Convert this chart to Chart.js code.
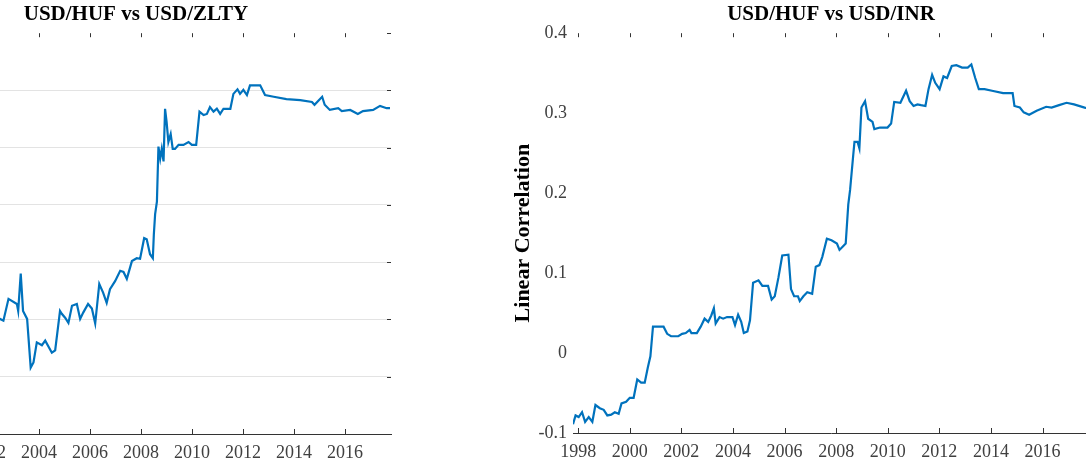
<!DOCTYPE html>
<html>
<head>
<meta charset="utf-8">
<script src="https://cdn.jsdelivr.net/npm/chart.js@4.4.1/dist/chart.umd.min.js"></script>
<style>
  html, body { margin: 0; padding: 0; background: #fff; overflow: hidden; }
  body { width: 1086px; height: 472px; position: relative; }
  .panel { position: absolute; top: 0; height: 472px; }
  #leftPanel { left: -230px; width: 631px; }
  #rightPanel { left: 480px; width: 620px; }
</style>
</head>
<body>
<div class="panel" id="leftPanel"><canvas id="zltyChart"></canvas></div>
<div class="panel" id="rightPanel"><canvas id="inrChart"></canvas></div>
<script>
// tick labels
const yearTicks = [1998, 2000, 2002, 2004, 2006, 2008, 2010, 2012, 2014, 2016];
const zltyYTicks = [0.2, 0.3, 0.4, 0.5, 0.6, 0.7, 0.8, 0.9];
const inrYTicks = [-0.1, 0, 0.1, 0.2, 0.3, 0.4];

// USD/HUF vs USD/ZLTY (left panel)
const zltyYears = [
  2002.3, 2002.47, 2002.6, 2002.8, 2003.13, 2003.18, 2003.28, 2003.37, 2003.53, 2003.67,
  2003.78, 2003.91, 2004.11, 2004.24, 2004.5, 2004.63, 2004.82, 2004.89, 2005.02, 2005.15,
  2005.29, 2005.48, 2005.61, 2005.73, 2005.92, 2006.07, 2006.2, 2006.36, 2006.51, 2006.65,
  2006.78, 2006.98, 2007.18, 2007.31, 2007.44, 2007.64, 2007.83, 2007.96, 2008.12, 2008.22,
  2008.35, 2008.46, 2008.5, 2008.55, 2008.62, 2008.68, 2008.75, 2008.81, 2008.88, 2008.94,
  2009.0, 2009.07, 2009.16, 2009.24, 2009.33, 2009.47, 2009.66, 2009.86, 2009.99, 2010.16,
  2010.29, 2010.45, 2010.58, 2010.7, 2010.84, 2010.97, 2011.1, 2011.23, 2011.5, 2011.62,
  2011.78, 2011.88, 2012.01, 2012.15, 2012.27, 2012.67, 2012.86, 2013.2, 2013.7, 2014.24,
  2014.7, 2014.8, 2015.1, 2015.2, 2015.4, 2015.73, 2015.87, 2016.2, 2016.5, 2016.7,
  2017.1, 2017.37, 2017.63, 2017.76
];
const zltyValues = [
  0.400, 0.401, 0.398, 0.436, 0.427, 0.415, 0.480, 0.415, 0.401, 0.316,
  0.325, 0.360, 0.355, 0.363, 0.342, 0.346, 0.415, 0.410, 0.403, 0.394,
  0.424, 0.427, 0.401, 0.412, 0.427, 0.419, 0.393, 0.462, 0.447, 0.429,
  0.453, 0.467, 0.485, 0.483, 0.471, 0.502, 0.507, 0.506, 0.542, 0.540,
  0.514, 0.507, 0.549, 0.584, 0.606, 0.702, 0.681, 0.698, 0.676, 0.768,
  0.745, 0.710, 0.724, 0.698, 0.698, 0.705, 0.705, 0.710, 0.705, 0.705,
  0.763, 0.757, 0.759, 0.771, 0.763, 0.768, 0.759, 0.768, 0.768, 0.794,
  0.802, 0.794, 0.801, 0.792, 0.809, 0.809, 0.792, 0.789, 0.785, 0.783,
  0.780, 0.775, 0.789, 0.775, 0.766, 0.769, 0.764, 0.766, 0.759, 0.764,
  0.766, 0.773, 0.769, 0.769
];

// USD/HUF vs USD/INR (right panel)
const inrYears = [
  1997.8, 1997.9, 1998.02, 1998.15, 1998.27, 1998.41, 1998.55, 1998.67, 1998.84, 1998.99,
  1999.13, 1999.28, 1999.42, 1999.57, 1999.68, 1999.86, 2000.0, 2000.15, 2000.29, 2000.44,
  2000.58, 2000.7, 2000.8, 2000.9, 2001.09, 2001.31, 2001.45, 2001.6, 2001.88, 2002.03,
  2002.17, 2002.32, 2002.39, 2002.6, 2002.75, 2002.9, 2003.04, 2003.16, 2003.26, 2003.33,
  2003.48, 2003.62, 2003.77, 2003.98, 2004.08, 2004.2, 2004.32, 2004.42, 2004.56, 2004.66,
  2004.78, 2004.99, 2005.14, 2005.36, 2005.5, 2005.62, 2005.76, 2005.91, 2006.15, 2006.25,
  2006.37, 2006.52, 2006.59, 2006.73, 2006.88, 2007.07, 2007.21, 2007.35, 2007.46, 2007.64,
  2007.82, 2008.03, 2008.13, 2008.25, 2008.37, 2008.47, 2008.54, 2008.66, 2008.71, 2008.83,
  2008.9, 2008.98, 2009.12, 2009.24, 2009.41, 2009.48, 2009.7, 2009.99, 2010.13, 2010.25,
  2010.49, 2010.71, 2010.85, 2011.0, 2011.15, 2011.29, 2011.46, 2011.58, 2011.72, 2011.84,
  2012.01, 2012.16, 2012.3, 2012.48, 2012.66, 2012.88, 2013.1, 2013.24, 2013.39, 2013.53,
  2013.75, 2014.04, 2014.47, 2014.84, 2014.91, 2015.12, 2015.27, 2015.48, 2015.77, 2016.14,
  2016.35, 2016.64, 2016.93, 2017.22, 2017.63, 2017.8
];
const inrValues = [
  -0.089, -0.078, -0.080, -0.074, -0.086, -0.080, -0.086, -0.065, -0.069, -0.071,
  -0.078, -0.077, -0.074, -0.076, -0.063, -0.061, -0.056, -0.056, -0.033, -0.037,
  -0.037, -0.018, -0.004, 0.033, 0.033, 0.033, 0.024, 0.021, 0.021, 0.024,
  0.025, 0.029, 0.025, 0.025, 0.033, 0.043, 0.039, 0.047, 0.056, 0.037,
  0.045, 0.043, 0.045, 0.045, 0.035, 0.048, 0.039, 0.025, 0.027, 0.041,
  0.088, 0.091, 0.084, 0.084, 0.067, 0.071, 0.094, 0.122, 0.123, 0.080,
  0.071, 0.071, 0.065, 0.071, 0.076, 0.074, 0.108, 0.110, 0.120, 0.143,
  0.141, 0.137, 0.129, 0.133, 0.137, 0.186, 0.204, 0.247, 0.264, 0.264,
  0.256, 0.307, 0.315, 0.293, 0.289, 0.280, 0.282, 0.282, 0.287, 0.314,
  0.313, 0.328, 0.315, 0.309, 0.311, 0.310, 0.309, 0.330, 0.348, 0.338,
  0.330, 0.346, 0.344, 0.359, 0.360, 0.357, 0.357, 0.361, 0.344, 0.330,
  0.330, 0.328, 0.325, 0.325, 0.309, 0.307, 0.301, 0.298, 0.303, 0.308,
  0.307, 0.310, 0.313, 0.311, 0.307, 0.306
];

const serif = "'Liberation Serif', 'Times New Roman', serif";

// MATLAB style: tick marks point into the plot
const innerTicks = {
  id: 'innerTicks',
  afterDraw(chart, args, opts) {
    const { ctx, chartArea: a, scales: { x, y } } = chart;
    ctx.save();
    ctx.strokeStyle = '#333';
    ctx.lineWidth = 1;
    ctx.beginPath();
    x.ticks.forEach(t => {
      const px = Math.round(x.getPixelForValue(t.value)) + 0.5;
      ctx.moveTo(px, a.bottom);
      ctx.lineTo(px, a.bottom - 5);
      ctx.moveTo(px, a.top);
      ctx.lineTo(px, a.top + 4);
    });
    if (opts.rightTicks) {
      y.ticks.forEach(t => {
        const py = Math.round(y.getPixelForValue(t.value)) + 0.5;
        ctx.moveTo(a.right, py);
        ctx.lineTo(a.right - 4, py);
      });
    }
    ctx.stroke();
    ctx.restore();
  }
};

function makeChart(id, title, years, values, yTicks, cfg) {
  const ctx = document.getElementById(id).getContext('2d');
  const yMin = yTicks[0], yMax = yTicks[yTicks.length - 1];
  return new Chart(ctx, {
    type: 'line',
    data: {
      datasets: [{
        data: years.map((yr, i) => ({ x: yr, y: values[i] })),
        borderColor: '#0072BD',
        borderWidth: 2.2,
        pointRadius: 0,
        tension: 0,
        fill: false
      }]
    },
    options: {
      responsive: true,
      maintainAspectRatio: false,
      animation: false,
      layout: { padding: { right: cfg.padRight, left: 0, top: 0, bottom: 0 } },
      plugins: {
        legend: { display: false },
        tooltip: { enabled: false },
        innerTicks: { rightTicks: cfg.rightTicks },
        title: {
          display: true,
          text: title,
          fullSize: false,
          color: '#000',
          font: { family: serif, size: 21, weight: 'bold' },
          padding: { top: 2, bottom: 6 }
        }
      },
      scales: {
        x: {
          type: 'linear',
          min: 1997.8,
          max: 2017.8,
          afterBuildTicks: s => { s.ticks = yearTicks.map(v => ({ value: v })); },
          afterFit: s => { s.height = 472 - cfg.bottom; },
          grid: { display: false, drawTicks: false },
          border: { display: true, color: '#333', width: 1 },
          ticks: {
            color: '#404040',
            padding: 8,
            maxRotation: 0,
            font: { family: serif, size: 18 },
            callback: v => String(v)
          }
        },
        y: {
          type: 'linear',
          min: yMin,
          max: yMax,
          afterBuildTicks: s => { s.ticks = yTicks.map(v => ({ value: v })); },
          afterFit: s => { s.width = cfg.yWidth; },
          grid: {
            display: cfg.grid,
            drawTicks: false,
            color: c => (c.tick && (c.tick.value === yMax || c.tick.value === yMin)) ? 'rgba(0,0,0,0)' : '#e3e3e3'
          },
          border: { display: false },
          title: {
            display: true,
            text: 'Linear Correlation',
            color: '#000',
            font: { family: serif, size: 22, weight: 'bold' },
            padding: { top: 30, bottom: 0 }
          },
          ticks: {
            color: '#404040',
            padding: 6,
            font: { family: serif, size: 18 },
            callback: v => String(+v.toFixed(1))
          }
        }
      }
    },
    plugins: [innerTicks]
  });
}

makeChart('zltyChart', 'USD/HUF vs USD/ZLTY', zltyYears, zltyValues, zltyYTicks,
  { yWidth: 111, padRight: 10, bottom: 434, grid: true, rightTicks: true });
makeChart('inrChart', 'USD/HUF vs USD/INR', inrYears, inrValues, inrYTicks,
  { yWidth: 93, padRight: 11, bottom: 433, grid: false, rightTicks: false });
</script>
</body>
</html>
